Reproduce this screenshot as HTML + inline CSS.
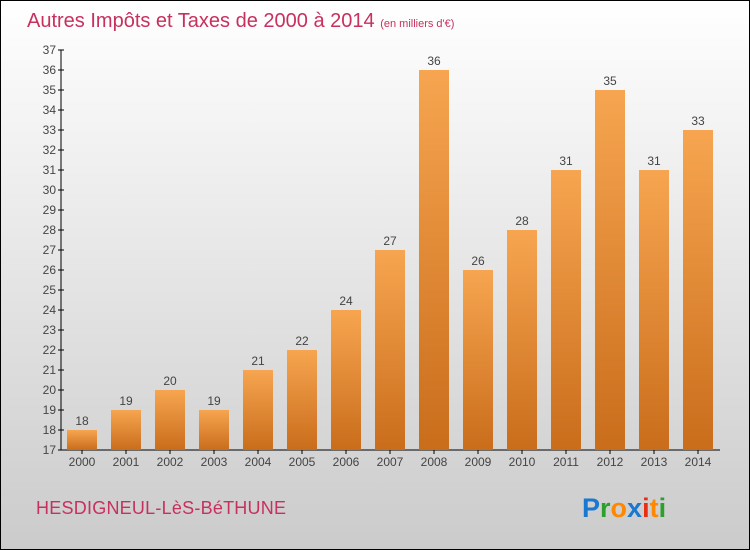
<!DOCTYPE html>
<html><head><meta charset="utf-8"><style>
body{margin:0;width:750px;height:550px;overflow:hidden;font-family:"Liberation Sans",sans-serif}
svg{display:block}
</style></head><body>
<svg id="c" width="750" height="550" xmlns="http://www.w3.org/2000/svg">
<defs>
<linearGradient id="bg" x1="0" y1="0" x2="0" y2="1"><stop offset="0" stop-color="#ffffff"/><stop offset="1" stop-color="#cbcbcb"/></linearGradient>
<linearGradient id="bar" x1="0" y1="0" x2="0" y2="1"><stop offset="0" stop-color="#f7a550"/><stop offset="1" stop-color="#c96d1b"/></linearGradient>
</defs>
<rect x="0.5" y="0.5" width="749" height="549" fill="url(#bg)" stroke="#000"/>
<text x="27" y="27" font-size="20" fill="#c8305e">Autres Impôts et Taxes de 2000 à 2014 <tspan font-size="11">(en milliers d'€)</tspan></text>
<g id="axes"></g><g id="bars"></g>
<text x="36" y="514" font-size="18" fill="#c8305e" textLength="250">HESDIGNEUL-LèS-BéTHUNE</text>
<text x="582" y="517" font-size="27" font-weight="bold"><tspan fill="#1a78d0">P</tspan><tspan fill="#2ca02c">r</tspan><tspan fill="#ff8800">o</tspan><tspan fill="#1a78d0">x</tspan><tspan fill="#e83010">i</tspan><tspan fill="#ff8800">t</tspan><tspan fill="#2ca02c">i</tspan></text>
</svg>
<script>
const years=["2000","2001","2002","2003","2004","2005","2006","2007","2008","2009","2010","2011","2012","2013","2014"];
const values=[18,19,20,19,21,22,24,27,36,26,28,31,35,31,33];
const yTicks=[17,18,19,20,21,22,23,24,25,26,27,28,29,30,31,32,33,34,35,36,37];
const NS="http://www.w3.org/2000/svg";
const y0=450,y1=50,vmin=17,vmax=37;
const Y=v=>y0-(v-vmin)/(vmax-vmin)*(y0-y1);
const X=i=>82+i*44;
function mk(t,a,p,txt){const e=document.createElementNS(NS,t);for(const k in a)e.setAttribute(k,a[k]);if(txt!==undefined)e.textContent=txt;p.appendChild(e);return e;}
const ax=document.getElementById('axes'),bg=document.getElementById('bars');
let l=mk('line',{x1:61,y1:y1,x2:61,y2:y0,stroke:'#000'},ax);


l=mk('line',{x1:61,y1:y0,x2:720,y2:y0,stroke:'#000'},ax);


yTicks.forEach(v=>{
 const y=Y(v);
 mk('line',{x1:58,y1:y,x2:64,y2:y,stroke:'#000'},ax);
 const t=mk('text',{x:56,y:y+4,'font-size':12,fill:'#444','text-anchor':'end'},ax,String(v));
 
 
});
years.forEach((yr,i)=>{
 const cx=X(i),v=values[i];
 const r=mk('rect',{x:cx-15,y:Y(v),width:30,height:y0-Y(v),fill:'url(#bar)'},bg);
 
 
 const t=mk('text',{x:cx,y:Y(v)-5,'font-size':12,fill:'#444','text-anchor':'middle'},bg,String(v));
 
 
 mk('line',{x1:cx,y1:y0,x2:cx,y2:y0+4,stroke:'#000'},ax);
 const xl=mk('text',{x:cx,y:466,'font-size':12,fill:'#444','text-anchor':'middle'},ax,yr);
 
 
});
</script>
</body></html>
